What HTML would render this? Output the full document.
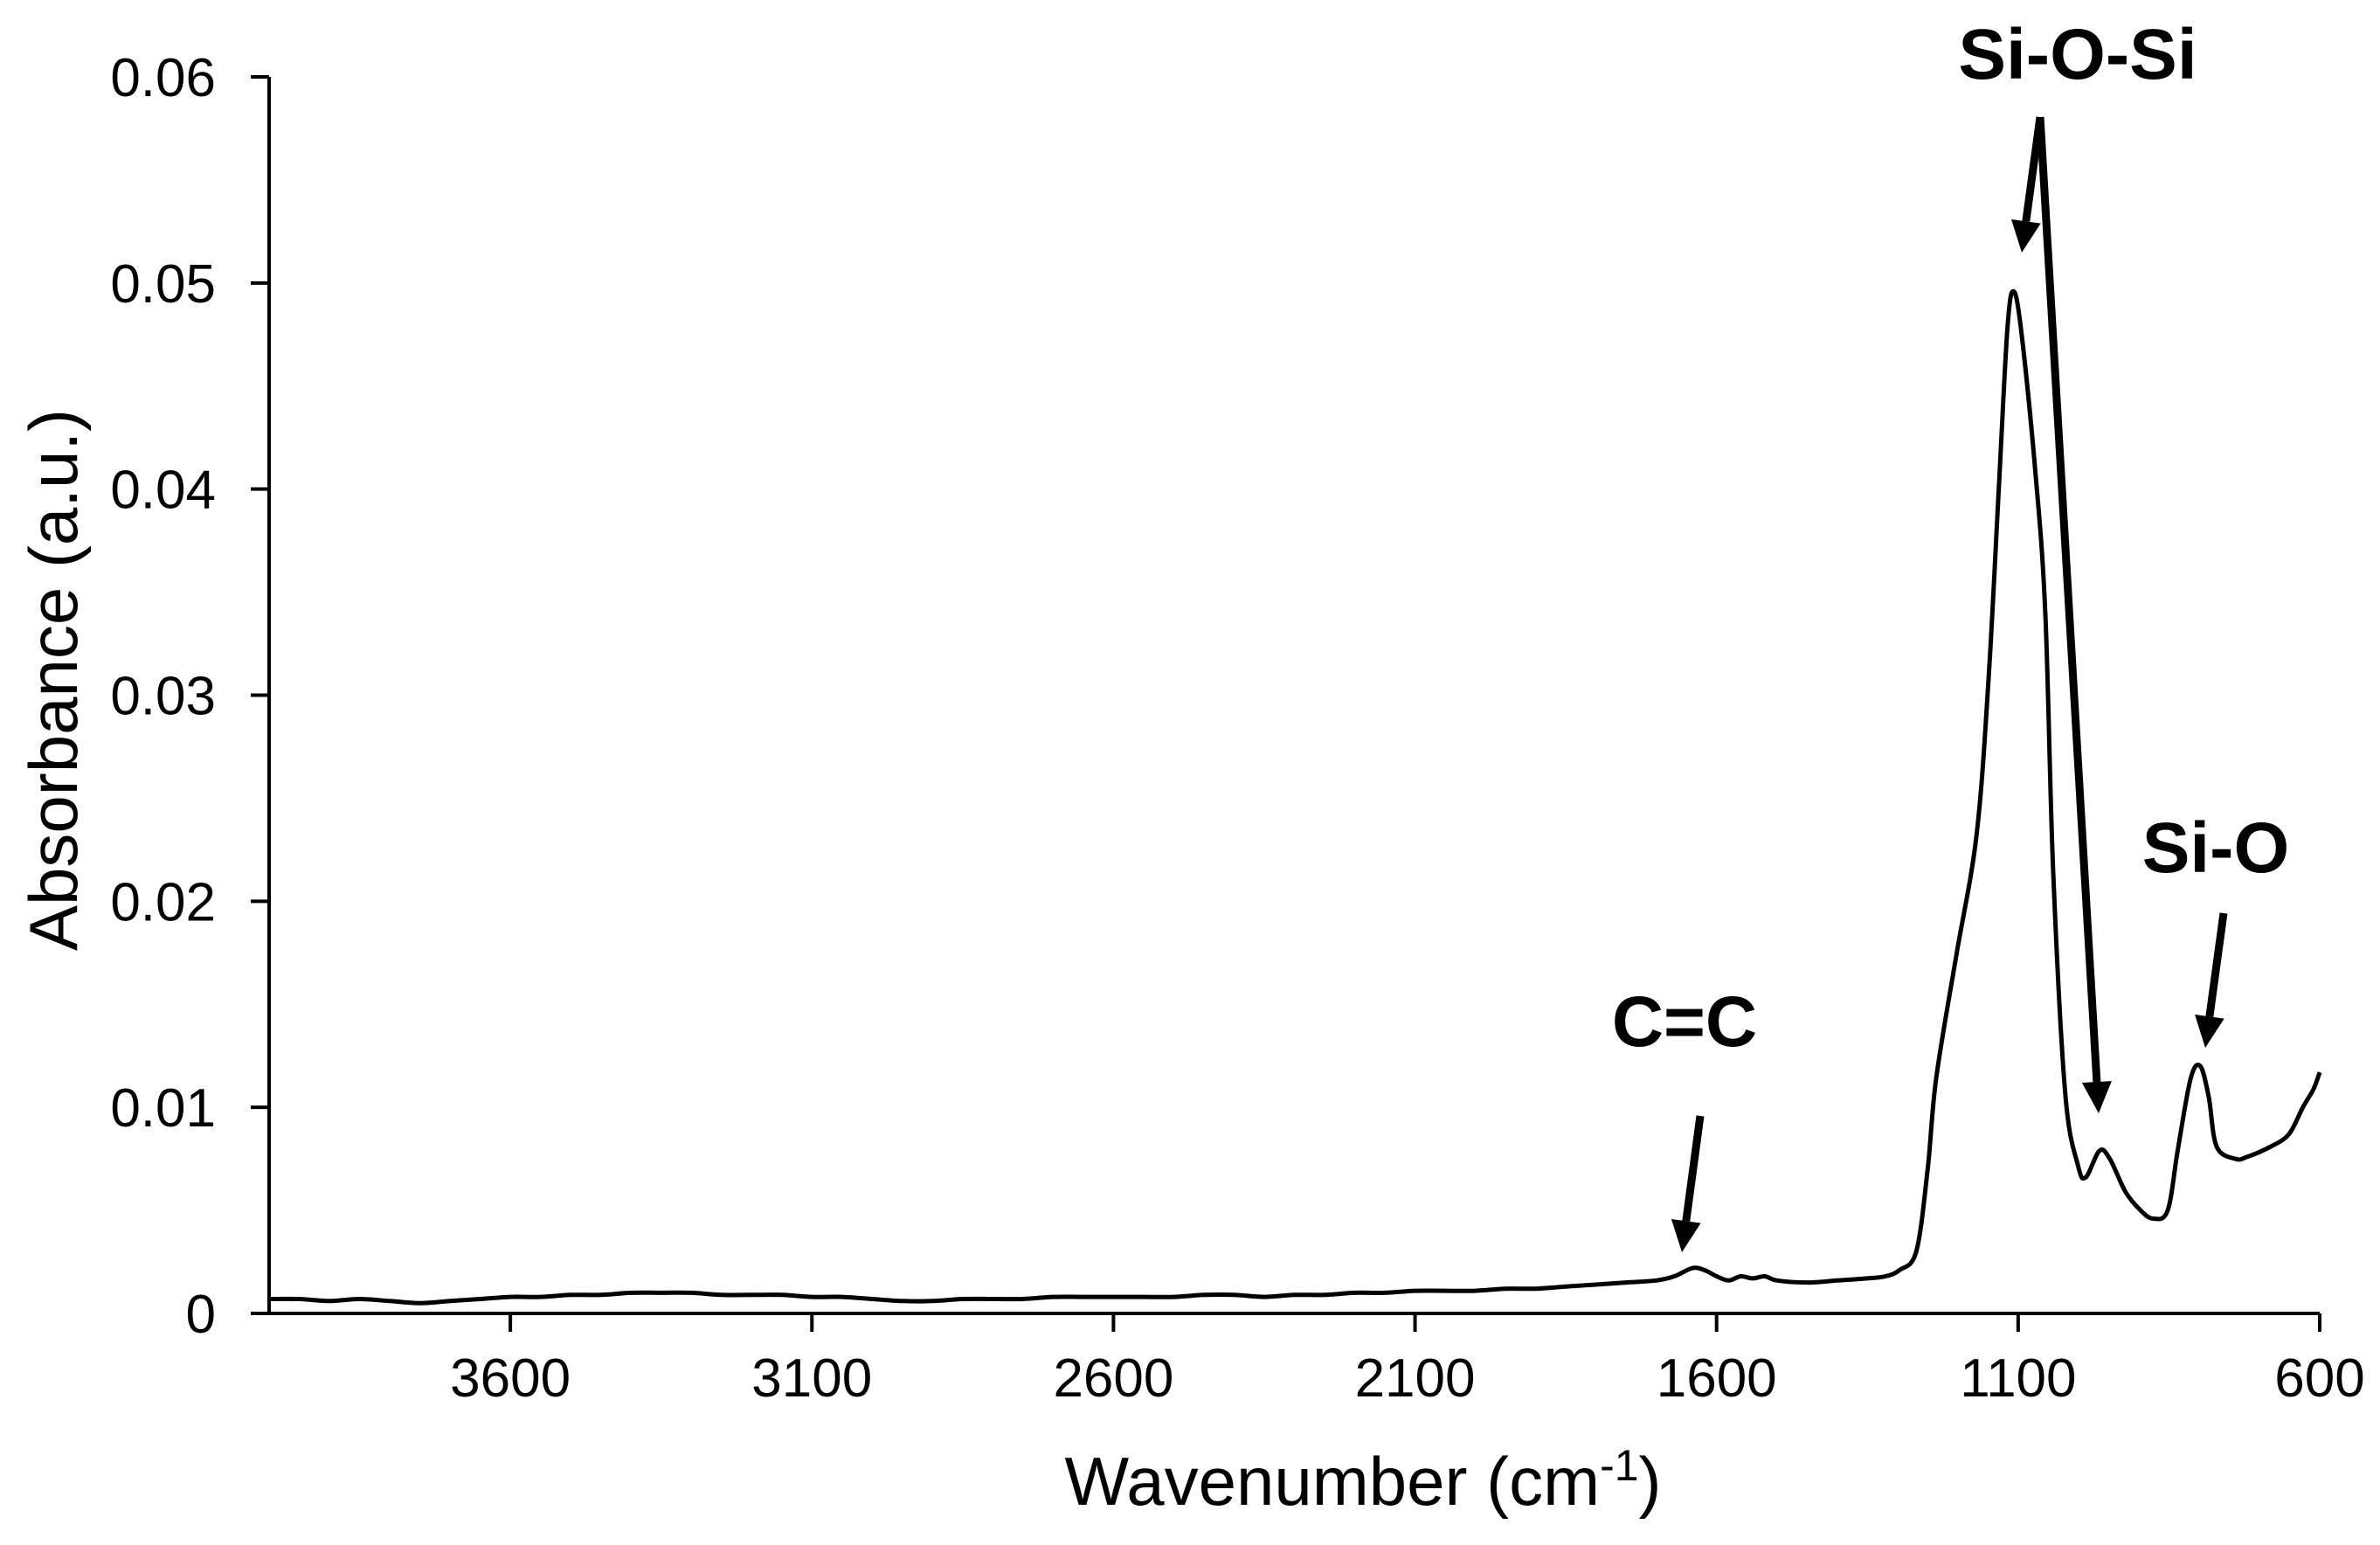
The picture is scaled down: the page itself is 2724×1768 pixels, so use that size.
<!DOCTYPE html>
<html><head><meta charset="utf-8"><style>
html,body{margin:0;padding:0;background:#fff;}
svg{display:block;font-family:"Liberation Sans",Arial,sans-serif;}
</style></head><body>
<svg id="chart" width="2724" height="1768" viewBox="0 0 2724 1768" xmlns="http://www.w3.org/2000/svg">
<g id="axes"></g>
<g id="series"></g>
<g id="annot"></g>
</svg>
<script>
const xTicks = [3600, 3100, 2600, 2100, 1600, 1100, 600];
const yTicks = [0, 0.01, 0.02, 0.03, 0.04, 0.05, 0.06];
const yTickLabels = ["0", "0.01", "0.02", "0.03", "0.04", "0.05", "0.06"];
const wavenumbers = [4000,3950,3900,3850,3800,3750,3700,3650,3600,3550,3500,3450,3400,3350,3300,3250,3200,3150,3100,3050,3000,2950,2900,2850,2800,2750,2700,2650,2600,2550,2500,2450,2400,2350,2300,2250,2200,2150,2100,2050,2000,1950,1900,1850,1800,1750,1700,1670,1640,1620,1600,1580,1560,1540,1520,1500,1450,1400,1350,1320,1297,1269,1250,1236,1203,1169,1149,1132,1118,1108,1095,1072,1055,1042,1022,1001,988,965,948,922,897,876,852,835,814,798,784,771,740,720,681,651,628,610,600];
const absorbance = [0.0007,0.0007,0.0006,0.0007,0.0006,0.0005,0.0006,0.0007,0.0008,0.0008,0.0009,0.0009,0.0010,0.0010,0.0010,0.0009,0.0009,0.0009,0.0008,0.0008,0.0007,0.0006,0.0006,0.0007,0.0007,0.0007,0.0008,0.0008,0.0008,0.0008,0.0008,0.0009,0.0009,0.0008,0.0009,0.0009,0.0010,0.0010,0.0011,0.0011,0.0011,0.0012,0.0012,0.0013,0.0014,0.0015,0.0016,0.0018,0.0022,0.0021,0.0018,0.0016,0.0018,0.0017,0.0018,0.0016,0.0015,0.0016,0.0017,0.0018,0.0021,0.0030,0.0070,0.0114,0.0173,0.0232,0.0308,0.0401,0.0477,0.0496,0.0477,0.0410,0.0340,0.0215,0.0107,0.0072,0.0066,0.0079,0.0075,0.0059,0.0050,0.0046,0.0050,0.0080,0.0114,0.0120,0.0105,0.0081,0.0075,0.0076,0.0081,0.0087,0.0100,0.0109,0.0117];

const NS = "http://www.w3.org/2000/svg";
const L = 308, R = 2655, Y0 = 1503, YT = 88;
const xMin = 4000, xMax = 600, yMax = 0.06;
const sx = v => L + (xMin - v) / (xMin - xMax) * (R - L);
const sy = v => Y0 - v / yMax * (Y0 - YT);
function mk(tag, attrs, parent) {
  const e = document.createElementNS(NS, tag);
  for (const k in attrs) e.setAttribute(k, attrs[k]);
  parent.appendChild(e);
  return e;
}
const axes = document.getElementById('axes');
const series = document.getElementById('series');
const annot = document.getElementById('annot');

let e = mk('line', {x1: L, y1: YT, x2: L, y2: Y0 + 2, stroke: '#000', 'stroke-width': 4}, axes);


e = mk('line', {x1: L - 2, y1: Y0, x2: R, y2: Y0, stroke: '#000', 'stroke-width': 4}, axes);



yTicks.forEach((v, i) => {
  const y = sy(v);
  const t = mk('line', {x1: L - 21, y1: y, x2: L, y2: y, stroke: '#000', 'stroke-width': 4}, axes);
  
  
  const tx = mk('text', {x: 247, y: y + 22, 'text-anchor': 'end', 'font-size': 62}, axes);
  tx.textContent = yTickLabels[i];
  
  
});
xTicks.forEach(v => {
  const x = sx(v);
  const t = mk('line', {x1: x, y1: Y0, x2: x, y2: Y0 + 21, stroke: '#000', 'stroke-width': 4}, axes);
  
  
  const tx = mk('text', {x: x, y: 1598, 'text-anchor': 'middle', 'font-size': 62}, axes);
  tx.textContent = String(v);
  
  
});

const xt = mk('text', {x: 1560, y: 1722, 'text-anchor': 'middle', 'font-size': 78}, axes);
xt.innerHTML = 'Wavenumber (cm<tspan dy="-28" font-size="50">-1</tspan><tspan dy="28">)</tspan>';


const yt = mk('text', {x: 0, y: 0, 'text-anchor': 'middle', 'font-size': 78, transform: 'translate(88,778) rotate(-90)'}, axes);
yt.textContent = 'Absorbance (a.u.)';



// smooth path (Catmull-Rom -> cubic Bezier)
const pts = wavenumbers.map((w, i) => [sx(w), sy(absorbance[i])]);
let d = 'M' + pts[0][0].toFixed(1) + ' ' + pts[0][1].toFixed(1);
for (let i = 0; i < pts.length - 1; i++) {
  const p0 = pts[Math.max(0, i - 1)], p1 = pts[i], p2 = pts[i + 1], p3 = pts[Math.min(pts.length - 1, i + 2)];
  const c1 = [p1[0] + (p2[0] - p0[0]) / 6, p1[1] + (p2[1] - p0[1]) / 6];
  const c2 = [p2[0] - (p3[0] - p1[0]) / 6, p2[1] - (p3[1] - p1[1]) / 6];
  d += ` C${c1[0].toFixed(1)} ${c1[1].toFixed(1)} ${c2[0].toFixed(1)} ${c2[1].toFixed(1)} ${p2[0].toFixed(1)} ${p2[1].toFixed(1)}`;
}
const path = mk('path', {d: d, fill: 'none', stroke: '#000', 'stroke-width': 5, 'stroke-linejoin': 'round'}, series);



function arrow(x1, y1, x2, y2, name) {
  const g = mk('g', {}, annot);
  
  
  const dx = x2 - x1, dy = y2 - y1, len = Math.hypot(dx, dy);
  const ux = dx / len, uy = dy / len, hl = 36, hw = 17;
  const bx = x2 - ux * hl, by = y2 - uy * hl;
  mk('line', {x1: x1, y1: y1, x2: bx, y2: by, stroke: '#000', 'stroke-width': 9}, g);
  mk('polygon', {points: `${x2},${y2} ${bx - uy * hw},${by + ux * hw} ${bx + uy * hw},${by - ux * hw}`, fill: '#000'}, g);
}
arrow(2335, 134, 2314, 289, 'si-o-si-arrow-main');
arrow(2335, 134, 2402, 1274, 'si-o-si-arrow-shoulder');
arrow(2545, 1045, 2524, 1199, 'si-o-arrow');
arrow(1946, 1277, 1925, 1433, 'c-c-arrow');

[['Si-O-Si', 2378, 90, 'si-o-si-label'], ['Si-O', 2536, 998, 'si-o-label'], ['C=C', 1928, 1197, 'c-c-label']].forEach(a => {
  const t = mk('text', {x: a[1], y: a[2], 'text-anchor': 'middle', 'font-size': 82, 'font-weight': 'bold'}, annot);
  t.textContent = a[0];
  
  
});
</script>
</body></html>
